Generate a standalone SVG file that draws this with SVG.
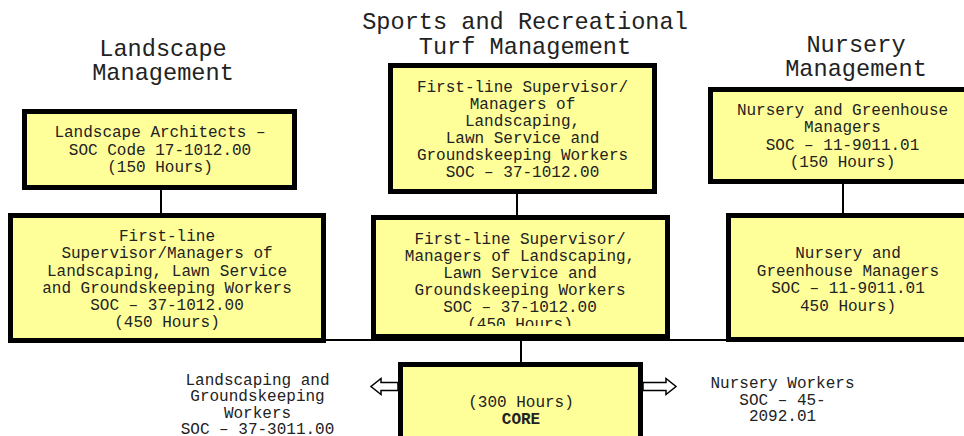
<svg xmlns="http://www.w3.org/2000/svg" width="964" height="436" viewBox="0 0 964 436">
<defs>
<style>
.box{fill:#ffff99;stroke:#000;stroke-width:5}
.t{font-family:"Liberation Mono","Courier New",monospace;font-size:16px;fill:#222;text-anchor:middle}
.h{font-family:"Liberation Mono","Courier New",monospace;font-size:23.6px;fill:#222;text-anchor:middle}
.ln{stroke:#000;stroke-width:2;fill:none}
.arr{fill:#fff;stroke:#000;stroke-width:1.5;stroke-linejoin:miter}
</style>
<clipPath id="clip5"><rect x="376" y="220" width="289" height="106"/></clipPath>
</defs>
<rect width="964" height="436" fill="#fff"/>
<g id="headings">
<text class="h" x="163" y="55.5">Landscape</text>
<text class="h" x="163" y="80">Management</text>
<text class="h" x="525" y="29">Sports and Recreational</text>
<text class="h" x="525" y="54">Turf Management</text>
<text class="h" x="856" y="51.5">Nursery</text>
<text class="h" x="856" y="76">Management</text>
</g>
<g id="connectors">
<line class="ln" x1="326" y1="340" x2="964" y2="340"/>
<line class="ln" x1="161" y1="190" x2="161" y2="213"/>
<line class="ln" x1="517" y1="194" x2="517" y2="215"/>
<line class="ln" x1="843" y1="184" x2="843" y2="213"/>
<line class="ln" x1="521" y1="339" x2="521" y2="362"/>
<polygon class="arr" points="398,382.5 381,382.5 381,378.5 371,386.5 381,394.5 381,390.5 398,390.5"/>
<polygon class="arr" points="643,382.5 666,382.5 666,378.5 676,386.5 666,394.5 666,390.5 643,390.5"/>
</g>
<g id="landscape-architects">
<rect class="box" x="24.5" y="111.5" width="270" height="76"/>
<text class="t" x="160" y="137">Landscape Architects –</text>
<text class="t" x="160" y="154.5">SOC Code 17-1012.00</text>
<text class="t" x="160" y="172">(150 Hours)</text>
</g>
<g id="sports-top">
<rect class="box" x="390.5" y="65.5" width="264" height="126"/>
<text class="t" x="522.5" y="92">First-line Supervisor/</text>
<text class="t" x="522.5" y="109">Managers of</text>
<text class="t" x="522.5" y="126">Landscaping,</text>
<text class="t" x="522.5" y="143">Lawn Service and</text>
<text class="t" x="522.5" y="160">Groundskeeping Workers</text>
<text class="t" x="522.5" y="177">SOC – 37-1012.00</text>
</g>
<g id="nursery-top">
<rect class="box" x="710.5" y="89.5" width="270" height="92"/>
<text class="t" x="842.5" y="115">Nursery and Greenhouse</text>
<text class="t" x="842.5" y="132">Managers</text>
<text class="t" x="842.5" y="149.5">SOC – 11-9011.01</text>
<text class="t" x="842.5" y="166.5">(150 Hours)</text>
</g>
<g id="landscape-supervisor">
<rect class="box" x="10.5" y="215.5" width="313" height="125"/>
<text class="t" x="167" y="241">First-line</text>
<text class="t" x="167" y="258">Supervisor/Managers of</text>
<text class="t" x="167" y="275.5">Landscaping, Lawn Service</text>
<text class="t" x="167" y="292.5">and Groundskeeping Workers</text>
<text class="t" x="167" y="310">SOC – 37-1012.00</text>
<text class="t" x="167" y="327">(450 Hours)</text>
</g>
<g id="sports-supervisor">
<rect class="box" x="373.5" y="217.5" width="294" height="119"/>
<g clip-path="url(#clip5)">
<text class="t" x="520" y="243.5">First-line Supervisor/</text>
<text class="t" x="520" y="260.5">Managers of Landscaping,</text>
<text class="t" x="520" y="277.5">Lawn Service and</text>
<text class="t" x="520" y="295">Groundskeeping Workers</text>
<text class="t" x="520" y="312">SOC – 37-1012.00</text>
<text class="t" x="520" y="329">(450 Hours)</text>
</g>
</g>
<g id="nursery-managers">
<rect class="box" x="728.5" y="215.5" width="260" height="124"/>
<text class="t" x="848" y="258">Nursery and</text>
<text class="t" x="848" y="275.5">Greenhouse Managers</text>
<text class="t" x="848" y="293">SOC – 11-9011.01</text>
<text class="t" x="848" y="310.5">450 Hours)</text>
</g>
<g id="core">
<rect class="box" x="400.5" y="364.5" width="240" height="100"/>
<text class="t" x="521" y="407">(300 Hours)</text>
<text class="t" x="521" y="424" font-weight="bold">CORE</text>
</g>
<g id="landscaping-workers">
<text class="t" x="257.5" y="384.5">Landscaping and</text>
<text class="t" x="257.5" y="401">Groundskeeping</text>
<text class="t" x="257.5" y="417.5">Workers</text>
<text class="t" x="257.5" y="433.5">SOC – 37-3011.00</text>
</g>
<g id="nursery-workers">
<text class="t" x="782.5" y="387.5">Nursery Workers</text>
<text class="t" x="782.5" y="404.5">SOC – 45-</text>
<text class="t" x="782.5" y="421">2092.01</text>
</g>
</svg>
